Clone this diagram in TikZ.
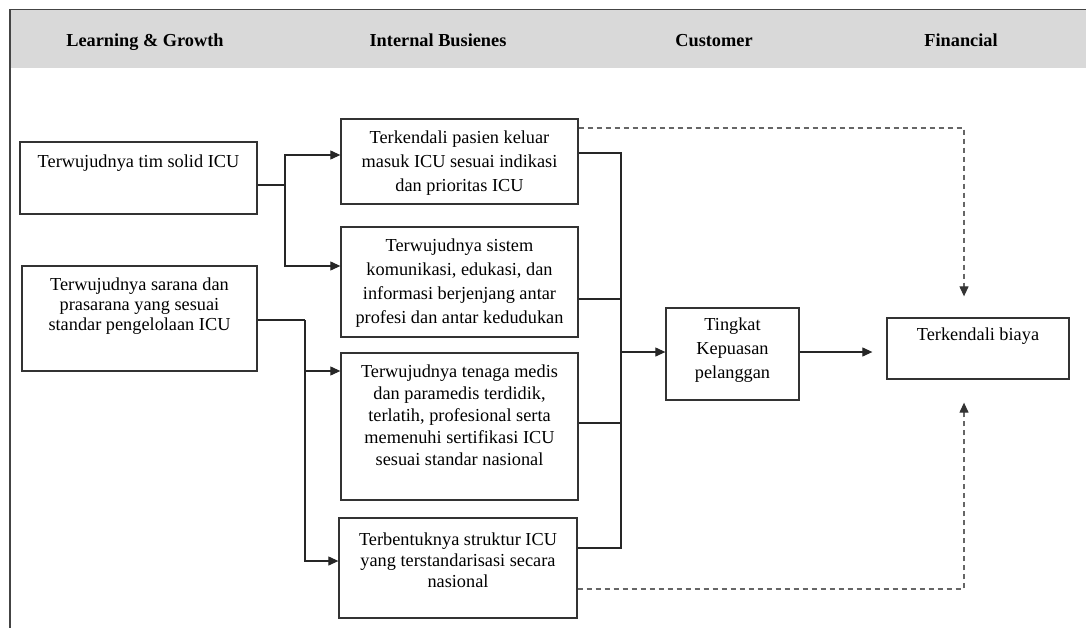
\documentclass[tikz,border=0pt]{standalone}
\usepackage{fontspec}
\setmainfont{Liberation Serif}
\usetikzlibrary{arrows.meta}
\definecolor{hdrgray}{HTML}{D9D9D9}
\definecolor{framecol}{HTML}{444444}
\definecolor{boxcol}{HTML}{333333}
\definecolor{dashcol}{HTML}{666666}
\tikzset{
  boxnode/.style={draw=boxcol, line width=1.3pt, rectangle, inner sep=0pt},
  txt/.style={anchor=north, align=center, inner sep=0pt},
  hdr/.style={font=\bfseries\fontsize{18.3}{22}\selectfont, inner sep=0pt, anchor=base},
  conn/.style={draw=black!85, line width=1.1pt},
  arr/.style={conn, -{Triangle[length=10pt,width=9pt]}},
  darr/.style={draw=dashcol, line width=1.2pt, dash pattern=on 5pt off 4pt, -{Triangle[length=10pt,width=9pt,color=black!80]}},
}
\newcommand{\fs}[1]{\fontsize{18.3}{#1}\selectfont}
\begin{document}
\begin{tikzpicture}[x=1pt,y=-1pt]
\useasboundingbox (0,0) rectangle (1086,628);
% header band and frame
\fill[hdrgray] (10.5,10) rectangle (1086,68);
\draw[framecol, line width=1.5pt] (10,628) -- (10,9.5) -- (1086,9.5);
\node[hdr] (h1) at (145,47) {Learning \& Growth};
\node[hdr] (h2) at (438,47) {Internal Busienes};
\node[hdr] (h3) at (714,47) {Customer};
\node[hdr] (h4) at (961,47) {Financial};
% boxes
\node[boxnode, minimum width=237pt, minimum height=72pt] (lg1) at (138.5,178) {};
\node[boxnode, minimum width=235pt, minimum height=105pt] (lg2) at (139.5,318.5) {};
\node[boxnode, minimum width=237pt, minimum height=85pt] (ib1) at (459.5,161.5) {};
\node[boxnode, minimum width=237pt, minimum height=110pt] (ib2) at (459.5,282) {};
\node[boxnode, minimum width=237pt, minimum height=147pt] (ib3) at (459.5,426.5) {};
\node[boxnode, minimum width=238pt, minimum height=100pt] (ib4) at (458,568) {};
\node[boxnode, minimum width=133pt, minimum height=92pt] (cu) at (732.5,354) {};
\node[boxnode, minimum width=182pt, minimum height=61pt] (fi) at (978,348.5) {};
% texts
\node[txt, font=\fs{20}] (lg1t) at (138.5,155) {Terwujudnya tim solid ICU};
\node[txt, font=\fs{20}] (lg2t) at (139.5,278) {Terwujudnya sarana dan\\prasarana yang sesuai\\standar pengelolaan ICU};
\node[txt, font=\fs{24}] (ib1t) at (459.5,131) {Terkendali pasien keluar\\masuk ICU sesuai indikasi\\dan prioritas ICU};
\node[txt, font=\fs{24}] (ib2t) at (459.5,239) {Terwujudnya sistem\\komunikasi, edukasi, dan\\informasi berjenjang antar\\profesi dan antar kedudukan};
\node[txt, font=\fs{22}] (ib3t) at (459.5,365) {Terwujudnya tenaga medis\\dan paramedis terdidik,\\terlatih, profesional serta\\memenuhi sertifikasi ICU\\sesuai standar nasional};
\node[txt, font=\fs{21}] (ib4t) at (458,533) {Terbentuknya struktur ICU\\yang terstandarisasi secara\\nasional};
\node[txt, font=\fs{24}] (cut) at (732.5,318) {Tingkat\\Kepuasan\\pelanggan};
\node[txt, font=\fs{24}] (fit) at (978,328) {Terkendali biaya};
% junction coordinates
\coordinate (j1) at (285,185);
\coordinate (j2) at (305,320);
\coordinate (bus) at (621,352);
% left connectors
\draw[conn] (lg1.east |- j1) -- (j1);
\draw[arr] (j1) |- ([yshift=6.5pt]ib1.west);
\draw[arr] (j1) |- ([yshift=16pt]ib2.west);
\draw[conn] (lg2.east |- j2) -- (j2);
\draw[arr] (j2) |- ([yshift=55.5pt]ib3.west);
\draw[arr] (j2) |- ([yshift=7pt]ib4.west);
% right bus
\draw[conn] ([yshift=8.5pt]ib1.east) -| (bus);
\draw[conn] ([yshift=-17pt]ib2.east) -| (bus);
\draw[conn] ([yshift=3.5pt]ib3.east) -| (bus);
\draw[conn] ([yshift=20pt]ib4.east) -| (bus);
\draw[arr] (bus) -- (bus -| cu.west);
\draw[arr, shorten >=14pt] ([yshift=2pt]cu.east) -- ([yshift=2pt]cu.east -| fi.west);
% dashed connectors
\draw[darr, shorten >=21pt] ([yshift=33.5pt]ib1.east) -| ([xshift=-14pt]fi.north);
\draw[darr, shorten >=23pt] ([yshift=-21pt]ib4.east) -| ([xshift=-14pt]fi.south);
\end{tikzpicture}
\end{document}
